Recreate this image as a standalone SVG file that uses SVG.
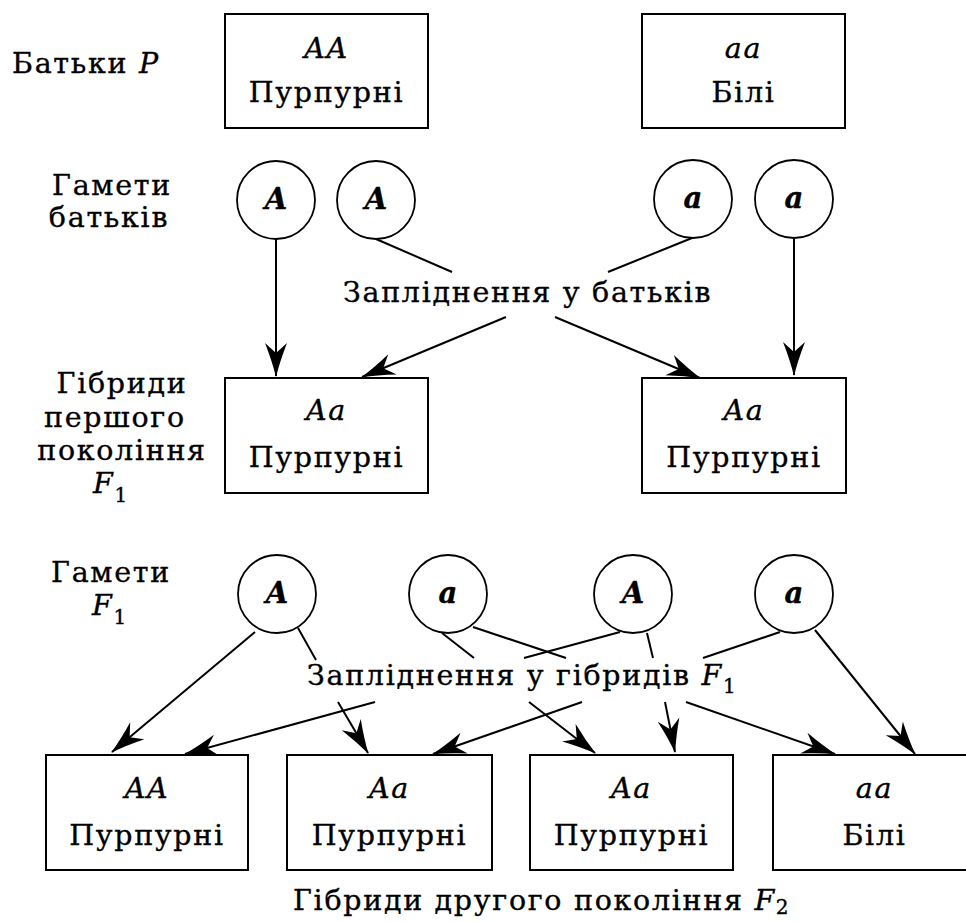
<svg xmlns="http://www.w3.org/2000/svg" width="966" height="922" viewBox="0 0 966 922">
  <defs>
    <style>
      text { font-family: "DejaVu Serif", "Liberation Serif", serif; font-size: 28.5px; letter-spacing: 1.7px; fill: #000; stroke: #000; stroke-width: 0.35px; }
      .c { text-anchor: middle; }
      .i { font-style: italic; }
      .g { font-style: italic; font-weight: bold; font-size: 29px; letter-spacing: 0; }
      .sub { font-size: 20px; font-style: normal; }
      .box { fill: #fff; stroke: #000; stroke-width: 2; }
      .gam { fill: #fff; stroke: #000; stroke-width: 1.8; }
      .ln { fill: none; stroke: #000; stroke-width: 2; }
      .ar { marker-end: url(#head); }
    </style>
    <!-- barbed filled arrowhead, tip at the end of the line -->
    <marker id="head" viewBox="-34 -12 36 24" refX="0" refY="0" markerWidth="36" markerHeight="24" markerUnits="userSpaceOnUse" orient="auto">
      <path d="M1,0 Q-15,-4 -33,-11 L-23,0 L-33,11 Q-15,4 1,0 Z" fill="#000"/>
    </marker>
  </defs>
  <rect width="966" height="922" fill="#fff"/>

  <!-- row labels -->
  <g id="labels">
    <text x="12" y="73">Батьки <tspan class="i">P</tspan></text>
    <text class="c" x="112" y="195">Гамети</text>
    <text class="c" x="109" y="227">батьків</text>
    <text class="c" x="122" y="393">Гібриди</text>
    <text class="c" x="115" y="427">першого</text>
    <text class="c" x="122" y="460">покоління</text>
    <text x="93" y="493" class="i">F<tspan class="sub" dy="9">1</tspan></text>
    <text class="c" x="111" y="582">Гамети</text>
    <text x="92" y="615" class="i">F<tspan class="sub" dy="9">1</tspan></text>
    <text x="293" y="910">Гібриди другого покоління <tspan class="i">F</tspan><tspan class="sub" dy="4">2</tspan></text>
  </g>

  <!-- connectors -->
  <g id="connectors">
    <path class="ln ar" d="M276,239 L276,376"/>
    <path class="ln" d="M376,239 L452,272"/>
    <path class="ln ar" d="M555,317 L700,378"/>
    <path class="ln" d="M692,238 L608,272"/>
    <path class="ln ar" d="M506,317 L362,377"/>
    <path class="ln ar" d="M794,239 L794,375"/>

    <path class="ln ar" d="M255,632 L112,752"/>
    <path class="ln" d="M298,628 L316,660"/>
    <path class="ln ar" d="M338,702 L368,753"/>
    <path class="ln" d="M442,633 L474,658"/>
    <path class="ln ar" d="M529,702 L595,753"/>
    <path class="ln" d="M473,627 L566,658"/>
    <path class="ln ar" d="M686,702 L835,754"/>
    <path class="ln" d="M620,632 L524,658"/>
    <path class="ln ar" d="M375,702 L185,754"/>
    <path class="ln" d="M647,633 L653,658"/>
    <path class="ln ar" d="M665,702 L675,752"/>
    <path class="ln" d="M780,632 L703,658"/>
    <path class="ln ar" d="M582,702 L433,754"/>
    <path class="ln ar" d="M815,630 L915,754"/>
  </g>

  <!-- connector captions -->
  <g id="captions">
    <text x="343" y="302">Запліднення  у батьків</text>
    <text x="307" y="685">Запліднення у гібридів <tspan class="i">F</tspan><tspan class="sub" dy="8">1</tspan></text>
  </g>

  <!-- parents -->
  <g id="p-AA">
    <rect class="box" x="225" y="14" width="203" height="114"/>
    <text class="c i" x="326.5" y="58">AA</text>
    <text class="c" x="326.5" y="102">Пурпурні</text>
  </g>
  <g id="p-aa">
    <rect class="box" x="642" y="14" width="203" height="114"/>
    <text class="c i" x="743.5" y="58">aa</text>
    <text class="c" x="743.5" y="102">Білі</text>
  </g>

  <!-- parent gametes -->
  <g id="pg-A1"><circle class="gam" cx="276" cy="200" r="39"/><text class="c g" x="276" y="209">A</text></g>
  <g id="pg-A2"><circle class="gam" cx="376" cy="200" r="39"/><text class="c g" x="376" y="209">A</text></g>
  <g id="pg-a1"><circle class="gam" cx="693" cy="199" r="39"/><text class="c g" x="693" y="208">a</text></g>
  <g id="pg-a2"><circle class="gam" cx="794" cy="199" r="39"/><text class="c g" x="794" y="208">a</text></g>

  <!-- first generation -->
  <g id="f1-left">
    <rect class="box" x="225" y="378" width="203" height="115"/>
    <text class="c i" x="326.5" y="420">Aa</text>
    <text class="c" x="326.5" y="467">Пурпурні</text>
  </g>
  <g id="f1-right">
    <rect class="box" x="642" y="378" width="204" height="115"/>
    <text class="c i" x="744" y="420">Aa</text>
    <text class="c" x="744" y="467">Пурпурні</text>
  </g>

  <!-- F1 gametes -->
  <g id="fg-A1"><circle class="gam" cx="277" cy="594" r="39"/><text class="c g" x="277" y="603">A</text></g>
  <g id="fg-a1"><circle class="gam" cx="448" cy="594" r="39"/><text class="c g" x="448" y="603">a</text></g>
  <g id="fg-A2"><circle class="gam" cx="633" cy="594" r="39"/><text class="c g" x="633" y="603">A</text></g>
  <g id="fg-a2"><circle class="gam" cx="794" cy="594" r="39"/><text class="c g" x="794" y="603">a</text></g>

  <!-- second generation -->
  <g id="f2-AA">
    <rect class="box" x="46" y="755" width="202" height="115"/>
    <text class="c i" x="147" y="798">AA</text>
    <text class="c" x="147" y="845">Пурпурні</text>
  </g>
  <g id="f2-Aa1">
    <rect class="box" x="287" y="755" width="205" height="115"/>
    <text class="c i" x="389.5" y="798">Aa</text>
    <text class="c" x="389.5" y="845">Пурпурні</text>
  </g>
  <g id="f2-Aa2">
    <rect class="box" x="530" y="755" width="203" height="115"/>
    <text class="c i" x="631.5" y="798">Aa</text>
    <text class="c" x="631.5" y="845">Пурпурні</text>
  </g>
  <g id="f2-aa">
    <rect class="box" x="773" y="755" width="203" height="115"/>
    <text class="c i" x="874.5" y="798">aa</text>
    <text class="c" x="874.5" y="845">Білі</text>
  </g>
</svg>
